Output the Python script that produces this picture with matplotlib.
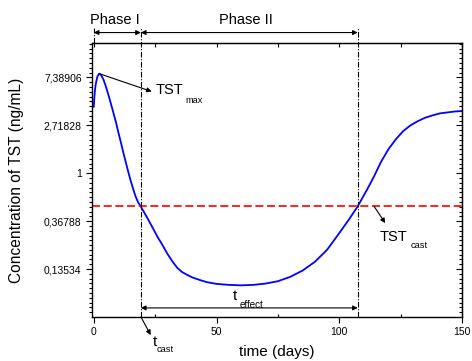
import numpy as np
import matplotlib.pyplot as plt
from matplotlib.ticker import FixedLocator, FixedFormatter, NullFormatter
import matplotlib.transforms as mtransforms

plt.rcParams['font.family'] = ['Liberation Sans', 'DejaVu Sans']

# TST concentration (days, ng/mL)
days = [0, 0.25, 0.5, 0.75, 1.0, 1.5, 2.2, 3, 4, 5, 6, 7, 8, 9, 10, 11, 12, 13, 14,
        15, 16, 17, 18, 19, 20, 21, 22, 24, 26, 28, 30, 32, 34, 36, 38, 40, 43, 46,
        50, 55, 60, 65, 70, 75, 80, 85, 90, 95, 100, 104, 107.5, 111, 114, 117, 120,
        123, 126, 129, 132, 135, 138, 141, 144, 147, 150]
tst = [4.01, 4.85, 5.70, 6.30, 6.75, 7.54, 8.00, 7.77, 7.03, 6.05, 5.10, 4.26, 3.53,
       2.92, 2.36, 1.92, 1.55, 1.27, 1.04, 0.861, 0.726, 0.619, 0.549, 0.505, 0.463,
       0.423, 0.387, 0.320, 0.264, 0.223, 0.186, 0.159, 0.139, 0.127, 0.120, 0.114,
       0.108, 0.103, 0.0993, 0.0973, 0.0963, 0.0973, 0.100, 0.105, 0.115, 0.131,
       0.157, 0.202, 0.287, 0.383, 0.502, 0.691, 0.923, 1.27, 1.65, 2.03, 2.41, 2.72,
       2.97, 3.19, 3.35, 3.49, 3.56, 3.63, 3.67]

tst_cast = 0.5      # castration threshold
t_cast = 19.2       # end of phase I
t_end = 107.5       # end of phase II
t_peak, tst_peak = 2.2, 8.0

ytick_vals = [np.exp(2), np.exp(1), 1, np.exp(-1), np.exp(-2)]
ytick_labels = ['7,38906', '2,71828', '1', '0,36788', '0,13534']

fig = plt.figure(figsize=(4.72, 3.61), dpi=100)
ax = fig.add_axes([0.195, 0.122, 0.784, 0.759])

ax.plot(days, tst, color='#0000FF', lw=1.3)
ax.axhline(tst_cast, color='#FF0000', lw=1.2, ls=(0, (4.8, 2.2)))

ax.set_yscale('log', base=np.e)
ax.set_xlim(-0.7, 150)
ax.set_ylim(np.exp(-3.0), np.exp(2.72))

ax.yaxis.set_major_locator(FixedLocator(ytick_vals))
ax.yaxis.set_major_formatter(FixedFormatter(ytick_labels))
minor_y = [np.exp(k / 10) for k in range(-30, 28) if k % 10 != 0]
ax.yaxis.set_minor_locator(FixedLocator(minor_y))
ax.yaxis.set_minor_formatter(NullFormatter())
ax.xaxis.set_major_locator(FixedLocator([0, 50, 100, 150]))
ax.xaxis.set_minor_locator(FixedLocator([25, 75, 125]))

ax.tick_params(axis='both', which='major', labelsize=7.5, length=4, width=0.8, direction='out')
ax.tick_params(axis='y', which='minor', length=2.4, width=0.8, direction='out')
ax.tick_params(axis='x', which='minor', length=2.5, width=0.8, direction='in')
for s in ax.spines.values():
    s.set_linewidth(1.0)

# mirrored ticks on top and right
top = ax.secondary_xaxis('top')
top.xaxis.set_major_locator(FixedLocator([0, 25, 50, 75, 100, 125, 150]))
top.tick_params(direction='in', length=3, width=0.8, labeltop=False)
right = ax.secondary_yaxis('right')
right.yaxis.set_major_locator(FixedLocator(ytick_vals))
right.yaxis.set_minor_locator(FixedLocator(minor_y))
right.yaxis.set_minor_formatter(NullFormatter())
right.tick_params(which='major', direction='in', length=4, width=0.8, labelright=False)
right.tick_params(which='minor', direction='in', length=2.4, width=0.8)

ax.text(-0.204, 0.5, 'Concentration of TST (ng/mL)', transform=ax.transAxes,
        rotation=90, ha='center', va='center', fontsize=11.2)
ax.text(0.5, -0.127, 'time (days)', transform=ax.transAxes,
        ha='center', va='center', fontsize=11)

trans = mtransforms.blended_transform_factory(ax.transData, ax.transAxes)
dashdot = (0, (5, 1.5, 1, 1.5))

# vertical phase boundaries
for xv, y0 in [(0, 1.0), (t_cast, 0.0), (t_end, 0.0)]:
    ax.plot([xv, xv], [y0, 1.055], transform=trans, color='black', lw=0.8,
            ls=dashdot, clip_on=False)

arw = dict(arrowstyle='<|-|>', color='black', lw=0.8, mutation_scale=7, shrinkA=0, shrinkB=0)
ax.annotate('', xy=(0, 1.038), xytext=(t_cast, 1.038), xycoords=trans,
            textcoords=trans, arrowprops=arw, annotation_clip=False)
ax.annotate('', xy=(t_cast, 1.038), xytext=(t_end, 1.038), xycoords=trans,
            textcoords=trans, arrowprops=arw, annotation_clip=False)
ax.text(8.8, 1.084, 'Phase I', transform=trans, ha='center', va='center', fontsize=10.5)
ax.text(62.0, 1.084, 'Phase II', transform=trans, ha='center', va='center', fontsize=10.5)

# t_effect
ax.annotate('', xy=(t_cast, 0.033), xytext=(t_end, 0.033), xycoords=trans,
            textcoords=trans, arrowprops=arw, annotation_clip=False)
ax.text(56.8, 0.0768, 't', ha='left', va='center', fontsize=11)
ax.text(59.4, 0.064, 'effect', ha='left', va='center', fontsize=7)

one = dict(arrowstyle='-|>', color='black', lw=0.8, mutation_scale=7, shrinkA=0, shrinkB=0)
# TST max
ax.annotate('', xy=(23.6, 5.51), xytext=(t_peak, tst_peak), arrowprops=one)
ax.text(25.0, 5.7, 'TST', ha='left', va='center', fontsize=10.5)
ax.text(37.3, 4.6, 'max', ha='left', va='center', fontsize=6.7)

# TST cast
ax.annotate('', xy=(118.7, 0.353), xytext=(114.2, tst_cast), arrowprops=one)
ax.text(116.6, 0.264, 'TST', ha='left', va='center', fontsize=10.5)
ax.text(128.9, 0.222, 'cast', ha='left', va='center', fontsize=6.7)

# t cast
ax.annotate('', xy=(23.2, -0.066), xytext=(t_cast, 0.0), xycoords=trans,
            textcoords=trans, arrowprops=one, annotation_clip=False)
ax.text(24.0, -0.09, 't', transform=trans, ha='left', va='center', fontsize=11)
ax.text(25.6, -0.12, 'cast', transform=trans, ha='left', va='center', fontsize=6.7)

fig.savefig('out.png', dpi=100)
